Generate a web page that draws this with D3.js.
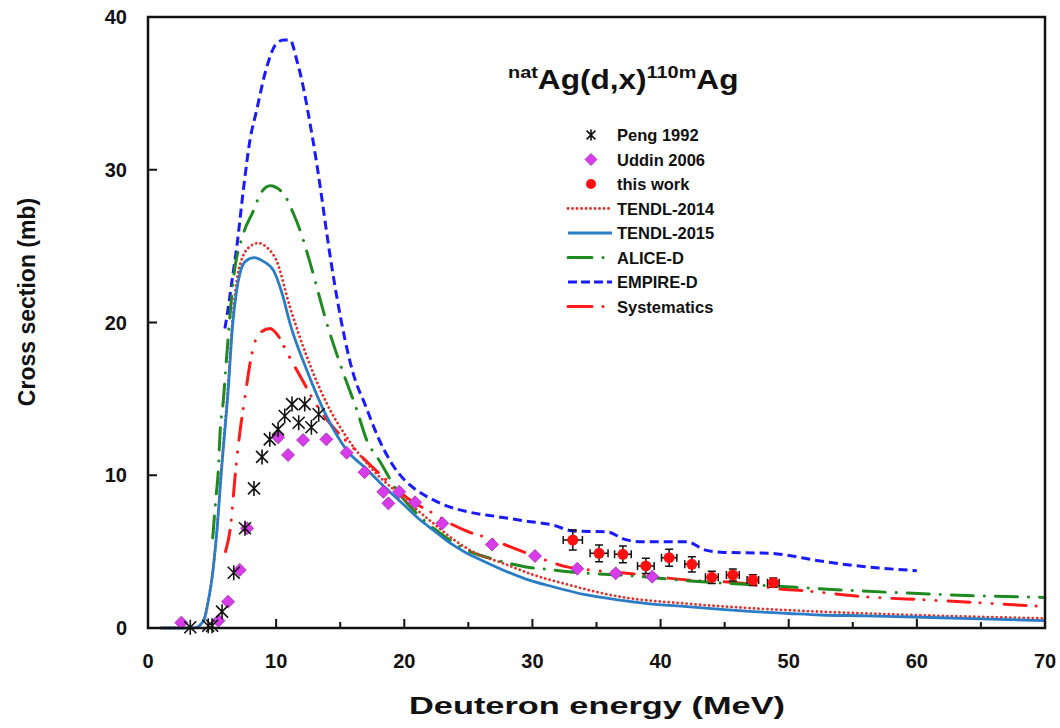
<!DOCTYPE html>
<html>
<head>
<meta charset="utf-8">
<script src="https://cdn.jsdelivr.net/npm/d3@7"></script>
<style>
  body { margin: 0; background: #fff; }
  svg text { font-family: "Liberation Sans", Arial, sans-serif; font-weight: bold; fill: #111; }
</style>
</head>
<body>
<svg id="chart" width="1060" height="728"></svg>
<script>
// ---- data (energy MeV, cross section mb) ----
const pengData = [
  [3.3, 0.05], [4.7, 0.15], [5.0, 0.15], [5.78, 1.07], [6.69, 3.62], [7.57, 6.53],
  [8.27, 9.14], [8.9, 11.2], [9.5, 12.35], [10.15, 13.0], [10.67, 13.88],
  [11.24, 14.66], [12.23, 14.66], [11.76, 13.44], [12.75, 13.14], [13.32, 13.99]
];
const uddinData = [
  [2.6, 0.35], [5.5, 0.48], [6.25, 1.72], [7.16, 3.8], [7.73, 6.53], [10.15, 12.48],
  [10.93, 11.33], [12.1, 12.3], [13.92, 12.35], [15.5, 11.48], [16.9, 10.2],
  [18.37, 8.92], [18.76, 8.16], [19.6, 8.92], [20.84, 8.23], [22.97, 6.85],
  [26.85, 5.47], [30.2, 4.71], [33.5, 3.88], [36.5, 3.58], [39.35, 3.36]
];
// [energy, sigma, dE, dSigma]
const thisWork = [
  [33.15, 5.76, 0.75, 0.65], [35.2, 4.89, 0.7, 0.55], [37.06, 4.82, 0.65, 0.55],
  [38.85, 4.06, 0.65, 0.5], [40.67, 4.6, 0.6, 0.55], [42.44, 4.17, 0.55, 0.5],
  [44.0, 3.32, 0.5, 0.4], [45.64, 3.47, 0.5, 0.4], [47.2, 3.14, 0.45, 0.35],
  [48.8, 2.97, 0.45, 0.3]
];
const tendl2014 = [
  [1, 0], [3.6, 0], [4.0, 0.15], [4.4, 0.6], [4.71, 1.8], [5.0, 3.3], [5.36, 6.2],
  [5.75, 10.6], [6.25, 15.8], [6.6, 20.2], [6.9, 22.6], [7.3, 24.1], [8.0, 25.0],
  [8.6, 25.2], [9.3, 24.9], [10.0, 24.1], [11.08, 21.0], [12.38, 17.8], [13.95, 14.7],
  [15.5, 12.5], [17.6, 10.3], [19.67, 8.7], [22.27, 6.85], [24, 5.7], [25.6, 4.89],
  [27.7, 4.24], [30, 3.5], [32.5, 2.9], [36.8, 2.05], [42, 1.6], [47.25, 1.29],
  [52.5, 1.07], [59.7, 0.85], [70, 0.63]
];
const tendl2015 = [
  [1, 0], [3.6, 0], [4.0, 0.15], [4.4, 0.6], [4.71, 1.8], [5.0, 3.3], [5.36, 6.2],
  [5.75, 10.5], [6.25, 15.5], [6.6, 19.8], [6.9, 22.0], [7.2, 23.3], [7.6, 24.0],
  [8.3, 24.25], [9.0, 24.0], [9.8, 23.4], [10.5, 21.8], [11.08, 19.95], [12.38, 16.9],
  [13.95, 13.83], [15.5, 11.65], [17.07, 10.4], [18.5, 9.2], [19.67, 8.3], [21.2, 7.1],
  [22.27, 6.4], [23.5, 5.6], [24.88, 4.9], [26.0, 4.45], [27.7, 3.8], [29.5, 3.2],
  [31.6, 2.7], [34, 2.2], [36.8, 1.83], [39, 1.6], [42.05, 1.4], [45, 1.2], [47.25, 1.07],
  [50, 0.95], [52.5, 0.85], [56, 0.8], [59.7, 0.72], [65, 0.6], [70, 0.48]
];
const aliceD = [
  [5.05, 5.9], [5.3, 8.5], [5.49, 10.34], [5.62, 12.75], [5.88, 14.9], [6.14, 17.76],
  [6.66, 22.8], [7.44, 25.8], [8.22, 27.3], [8.7, 28.3], [9.52, 28.96], [10.56, 28.45],
  [11.34, 27.15], [12.12, 25.4], [12.65, 23.9], [14.08, 19.6], [15.25, 16.67],
  [16.3, 14.27], [17.07, 12.3], [18.1, 10.9], [19.41, 9.03], [20.97, 7.5], [22.8, 6.2],
  [24.88, 5.1], [27.2, 4.45], [29.5, 4.0], [31.6, 3.8], [34, 3.6], [36.8, 3.47],
  [42.05, 3.1], [49.85, 2.7], [55, 2.45], [59.7, 2.27], [65, 2.1], [70, 2.0]
];
const empireD = [
  [6.0, 19.6], [6.27, 21.0], [6.6, 23.0], [6.92, 24.9], [7.44, 28.67], [7.96, 31.95],
  [8.48, 33.9], [9.13, 36.3], [10.04, 38.28], [10.6, 38.5], [11.08, 38.5], [11.6, 37.2],
  [12.12, 35.4], [12.65, 33.0], [13.17, 30.4], [13.69, 27.4], [13.95, 25.84],
  [14.73, 21.7], [16.0, 16.7], [17.0, 14.5], [18.0, 12.4], [19.0, 10.8], [20.0, 9.7],
  [21.0, 9.0], [22.0, 8.5], [23.0, 8.1], [25.0, 7.6], [27.2, 7.3], [29.5, 7.0],
  [31.6, 6.74], [33.2, 6.35], [35.8, 6.3], [37.2, 5.8], [38.3, 5.65], [42.05, 5.65],
  [43.5, 5.1], [45, 4.95], [48.55, 4.89], [50, 4.75], [52, 4.45], [55, 4.1], [60, 3.75]
];
const systematics = [
  [6.05, 5.0], [6.5, 7.07], [6.77, 9.7], [7.2, 13.0], [7.55, 15.0], [7.96, 17.3],
  [8.6, 19.2], [9.52, 19.6], [10.0, 19.3], [11.0, 17.8], [12.0, 16.3], [13.0, 14.8],
  [14.0, 13.6], [16.0, 11.8], [18.9, 9.47], [20.45, 8.38], [22.27, 7.5], [23.57, 6.85],
  [25, 6.3], [26.5, 5.9], [28, 5.4], [30.3, 4.67], [32.7, 4.0], [34.5, 3.8],
  [36.8, 3.64], [42.05, 3.14], [46.5, 2.92], [49.3, 2.55], [51.2, 2.44], [55.8, 2.05],
  [61, 1.83], [70, 1.4]
];
const xTicks = [0, 10, 20, 30, 40, 50, 60, 70];
const xMinorTicks = [5, 15, 25, 35, 45, 55, 65];
const yTicks = [0, 10, 20, 30, 40];

// ---- layout ----
const margin = { left: 148, right: 1045, top: 17, bottom: 628 };
const svg = d3.select("#chart");

const x = d3.scaleLinear().domain([0, 70]).range([margin.left, margin.right]);
const y = d3.scaleLinear().domain([0, 40]).range([margin.bottom, margin.top]);

// line styles for the model curves
const curves = [
  { name: "TENDL-2014", data: tendl2014, color: "#e0332e", width: 2.8, dash: "0.1 4.4", cap: "round", key: "0.1 4.4" },
  { name: "TENDL-2015", data: tendl2015, color: "#2a7cc7", width: 2.8, dash: null, cap: "butt", key: null },
  { name: "ALICE-D", data: aliceD, color: "#1f8a1f", width: 3, dash: "22 11 0.1 11", cap: "round", key: "24 11 0.1 40" },
  { name: "EMPIRE-D", data: empireD, color: "#1a1aff", width: 3, dash: "9 5", cap: "butt", key: "9 4" },
  { name: "Systematics", data: systematics, color: "#ff1a1a", width: 3, dash: "22 10 0.1 12 0.1 12", cap: "round", key: "24 11 0.1 40" }
];

const line = d3.line()
  .x((d) => x(d[0]))
  .y((d) => y(d[1]))
  .curve(d3.curveMonotoneX);

const plot = svg.append("g");

// Draw in this order so solid blue sits above dotted red
const drawOrder = ["Systematics", "EMPIRE-D", "ALICE-D", "TENDL-2014", "TENDL-2015"];
drawOrder.forEach((nm) => {
  const c = curves.find((k) => k.name === nm);
  plot.append("path")
    .attr("d", line(c.data))
    .attr("fill", "none")
    .attr("stroke", c.color)
    .attr("stroke-width", c.width)
    .attr("stroke-linecap", c.cap)
    .attr("stroke-dasharray", c.dash);
});

// asterisk marker path
function asterisk(r) {
  const a = r * 0.8;
  return `M${-a},${-a}L${a},${a}M${-a},${a}L${a},${-a}M0,${-r}L0,${r}`;
}
function diamond(r) {
  return `M0,${-r}L${r},0L0,${r}L${-r},0Z`;
}

// Uddin 2006 diamonds
plot.selectAll(".uddin")
  .data(uddinData)
  .join("path")
  .attr("class", "uddin")
  .attr("transform", (d) => `translate(${x(d[0])},${y(d[1])})`)
  .attr("d", diamond(6.5))
  .attr("fill", "#d83ce8")
  .attr("stroke", "#a02ab8")
  .attr("stroke-width", 0.8);

// Peng 1992 asterisks
plot.selectAll(".peng")
  .data(pengData)
  .join("path")
  .attr("class", "peng")
  .attr("transform", (d) => `translate(${x(d[0])},${y(d[1])})`)
  .attr("d", asterisk(7.5))
  .attr("fill", "none")
  .attr("stroke", "#111")
  .attr("stroke-width", 1.6);

// this work with error bars
const tw = plot.selectAll(".tw")
  .data(thisWork)
  .join("g")
  .attr("class", "tw");
tw.append("path")
  .attr("d", (d) => {
    const cx = x(d[0]), cy = y(d[1]);
    const x0 = x(d[0] - d[2]), x1 = x(d[0] + d[2]);
    const y0 = y(d[1] - d[3]), y1 = y(d[1] + d[3]);
    return `M${x0},${cy}H${x1}M${x0},${cy - 4}V${cy + 4}M${x1},${cy - 4}V${cy + 4}` +
      `M${cx},${y0}V${y1}M${cx - 4},${y0}H${cx + 4}M${cx - 4},${y1}H${cx + 4}`;
  })
  .attr("stroke", "#111")
  .attr("stroke-width", 1.5)
  .attr("fill", "none");
tw.append("circle")
  .attr("cx", (d) => x(d[0]))
  .attr("cy", (d) => y(d[1]))
  .attr("r", 5.5)
  .attr("fill", "#ff1010");

// ---- axes frame and ticks ----
const axes = svg.append("g");
axes.append("rect")
  .attr("x", margin.left)
  .attr("y", margin.top)
  .attr("width", margin.right - margin.left)
  .attr("height", margin.bottom - margin.top)
  .attr("fill", "none")
  .attr("stroke", "#111")
  .attr("stroke-width", 2.5);

axes.selectAll(".xt")
  .data(xTicks.slice(1, -1))
  .join("line")
  .attr("x1", (d) => x(d)).attr("x2", (d) => x(d))
  .attr("y1", margin.bottom).attr("y2", margin.bottom - 9)
  .attr("stroke", "#111").attr("stroke-width", 2);
axes.selectAll(".xm")
  .data(xMinorTicks)
  .join("line")
  .attr("x1", (d) => x(d)).attr("x2", (d) => x(d))
  .attr("y1", margin.bottom).attr("y2", margin.bottom - 6)
  .attr("stroke", "#111").attr("stroke-width", 2);
axes.selectAll(".yt")
  .data(yTicks.slice(1, -1))
  .join("line")
  .attr("x1", margin.left).attr("x2", margin.left + 9)
  .attr("y1", (d) => y(d)).attr("y2", (d) => y(d))
  .attr("stroke", "#111").attr("stroke-width", 2);

axes.selectAll(".xl")
  .data(xTicks)
  .join("text")
  .attr("x", (d) => x(d))
  .attr("y", 668)
  .attr("text-anchor", "middle")
  .attr("font-size", 20)
  .text((d) => d);
axes.selectAll(".yl")
  .data(yTicks)
  .join("text")
  .attr("x", 127)
  .attr("y", (d) => y(d) + 7)
  .attr("text-anchor", "end")
  .attr("font-size", 20)
  .text((d) => d);

svg.append("text")
  .attr("x", 409)
  .attr("y", 714)
  .attr("font-size", 23)
  .attr("textLength", 376)
  .attr("lengthAdjust", "spacingAndGlyphs")
  .text("Deuteron energy  (MeV)");
svg.append("text")
  .attr("transform", "translate(35,302) rotate(-90)")
  .attr("text-anchor", "middle")
  .attr("font-size", 23)
  .text("Cross section (mb)");

// ---- title ----
const title = svg.append("text")
  .attr("transform", "translate(508,89) scale(1.17,1)");
title.append("tspan").attr("font-size", 17).attr("dy", -11).text("nat");
title.append("tspan").attr("font-size", 27).attr("dy", 11).text("Ag(d,x)");
title.append("tspan").attr("font-size", 17).attr("dy", -11).text("110m");
title.append("tspan").attr("font-size", 27).attr("dy", 11).text("Ag");

// ---- legend ----
const legendRows = ["Peng 1992", "Uddin 2006", "this work", "TENDL-2014", "TENDL-2015", "ALICE-D", "EMPIRE-D", "Systematics"];
const legend = svg.append("g");
legendRows.forEach((label, i) => {
  const ly = 135 + i * 24.5;
  const row = legend.append("g");
  if (i === 0) {
    row.append("path").attr("transform", `translate(591,${ly})`).attr("d", asterisk(5.5))
      .attr("stroke", "#111").attr("stroke-width", 1.6).attr("fill", "none");
  } else if (i === 1) {
    row.append("path").attr("transform", `translate(591,${ly})`).attr("d", diamond(6))
      .attr("fill", "#d83ce8").attr("stroke", "#a02ab8").attr("stroke-width", 0.8);
  } else if (i === 2) {
    row.append("circle").attr("cx", 591).attr("cy", ly).attr("r", 5).attr("fill", "#ff1010");
  } else {
    const c = curves.find((k) => k.name === label);
    row.append("line")
      .attr("x1", 568).attr("x2", 612).attr("y1", ly).attr("y2", ly)
      .attr("stroke", c.color).attr("stroke-width", c.width)
      .attr("stroke-linecap", c.cap)
      .attr("stroke-dasharray", c.key);
  }
  row.append("text").attr("x", 617).attr("y", ly + 6).attr("font-size", 16.5).text(label);
});
</script>
</body>
</html>
